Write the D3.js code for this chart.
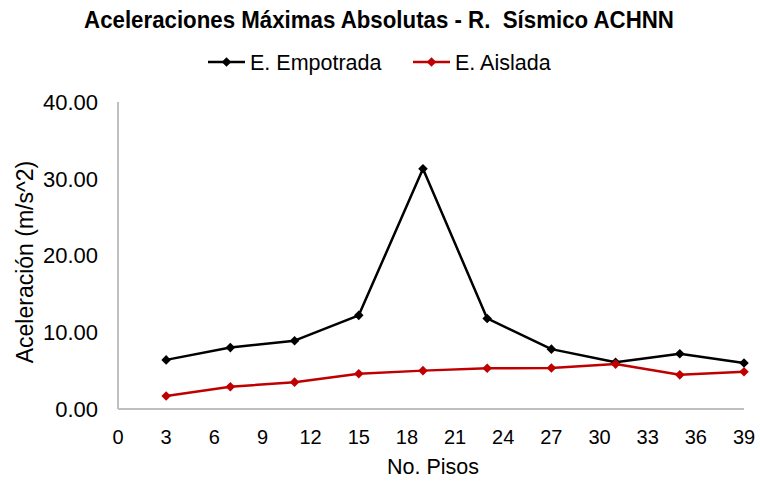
<!DOCTYPE html>
<html><head><meta charset="utf-8">
<script src="https://cdn.jsdelivr.net/npm/d3@7"></script>
<style>body{margin:0;background:#fff}svg{display:block}text{font-family:Arial,"Liberation Sans",sans-serif;fill:#000;white-space:pre}</style>
</head><body>
<svg id="c" width="760" height="483"></svg>
<script>
const pisos = [3, 7, 11, 15, 19, 23, 27, 31, 35, 39];
const empotrada = [6.4, 8.0, 8.9, 12.2, 31.3, 11.8, 7.8, 6.1, 7.2, 6.0];
const aislada = [1.7, 2.9, 3.5, 4.6, 5.0, 5.3, 5.35, 5.85, 4.45, 4.85];
const xTicks = [0, 3, 6, 9, 12, 15, 18, 21, 24, 27, 30, 33, 36, 39];
const yTicks = [0, 10, 20, 30, 40];
const seriesNames = ["E. Empotrada", "E. Aislada"];
const seriesColors = ["#000000", "#c00000"];
const title = "Aceleraciones Máximas Absolutas - R.  Sísmico ACHNN";

const svg = d3.select("#c");
const x = d3.scaleLinear().domain([0, 39]).range([118, 744]);
const y = d3.scaleLinear().domain([0, 40]).range([409, 102]);

function fitText(sel, w) {
  sel.each(function(){
    const len = this.getComputedTextLength();
    const s = w / len;
    const ax = +this.getAttribute("x"), ay = +this.getAttribute("y");
    this.setAttribute("transform", `translate(${ax},${ay}) scale(${s},1) translate(${-ax},${-ay})`);
  });
}

// title
svg.append("text").attr("x", 379).attr("y", 28).attr("text-anchor", "middle")
  .attr("font-weight", "bold").attr("font-size", 24.5).text(title)
  .call(fitText, 590);

// axes lines
svg.append("line").attr("x1", x(0)).attr("x2", x(0)).attr("y1", y(40)).attr("y2", y(0))
  .attr("stroke", "#bfbfbf").attr("stroke-width", 2);
svg.append("line").attr("x1", x(0)).attr("x2", x(39)).attr("y1", y(0)).attr("y2", y(0))
  .attr("stroke", "#bfbfbf").attr("stroke-width", 2);

// y ticks
svg.append("g").selectAll("text").data(yTicks).join("text")
  .attr("x", 98).attr("y", d => y(d)).attr("dy", "0.36em").attr("text-anchor", "end")
  .attr("font-size", 22).text(d => d3.format(".2f")(d));

// x ticks
svg.append("g").selectAll("text").data(xTicks).join("text")
  .attr("x", d => x(d)).attr("y", 444).attr("text-anchor", "middle")
  .attr("font-size", 20).text(d => d);

// axis titles
svg.append("text").attr("x", 433).attr("y", 474).attr("text-anchor", "middle")
  .attr("font-size", 21.5).text("No. Pisos");
svg.append("text").attr("transform", "translate(33,262) rotate(-90)").attr("text-anchor", "middle")
  .attr("font-size", 23).text("Aceleración (m/s^2)");

// series
const diamond = d3.symbol().type(d3.symbolSquare).size(46);
const line = d3.line().x((d, i) => x(pisos[i])).y(d => y(d));
[empotrada, aislada].forEach((vals, k) => {
  svg.append("path").datum(vals).attr("d", line).attr("fill", "none")
    .attr("stroke", seriesColors[k]).attr("stroke-width", 2.5).attr("stroke-linejoin", "round");
  svg.append("g").selectAll("path").data(vals).join("path")
    .attr("d", diamond).attr("transform", (d, i) => `translate(${x(pisos[i])},${y(d)}) rotate(45)`)
    .attr("fill", seriesColors[k]);
});

// legend
const legX = [208, 413];
seriesNames.forEach((n, k) => {
  const g = svg.append("g");
  g.append("line").attr("x1", legX[k]).attr("x2", legX[k] + 37).attr("y1", 62).attr("y2", 62)
    .attr("stroke", seriesColors[k]).attr("stroke-width", 2.5);
  g.append("path").attr("d", diamond).attr("transform", `translate(${legX[k] + 18.5},62) rotate(45)`).attr("fill", seriesColors[k]);
  g.append("text").attr("x", legX[k] + 42).attr("y", 62).attr("dy", "0.36em")
    .attr("font-size", 21.5).text(n);
});
</script>
</body></html>
